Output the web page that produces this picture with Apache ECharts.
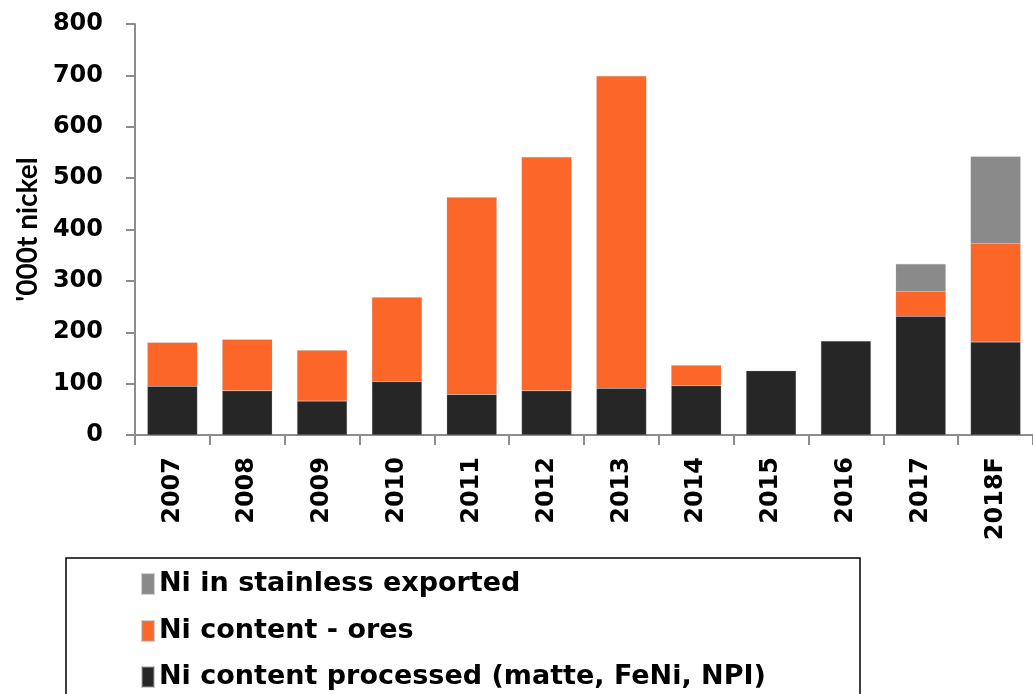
<!DOCTYPE html>
<html>
<head>
<meta charset="utf-8">
<script src="https://cdn.jsdelivr.net/npm/echarts@6/dist/echarts.min.js"></script>
<style>
html,body{margin:0;padding:0;background:#fff;}
#chart{width:1033px;height:694px;}
</style>
</head>
<body>
<div id="chart"></div>
<script>
const categories = ['2007','2008','2009','2010','2011','2012','2013','2014','2015','2016','2017','2018F'];
const processed = [95, 86, 66, 104, 79, 86, 91, 96, 125, 183, 231, 181];
const ores = [85, 100, 99, 164, 384, 455, 608, 40, 0, 0, 49, 192];
const stainless = [0, 0, 0, 0, 0, 0, 0, 0, 0, 0, 53, 169];
const yTicks = [0, 100, 200, 300, 400, 500, 600, 700, 800];
const seriesNames = ['Ni content processed (matte, FeNi, NPI)', 'Ni content - ores', 'Ni in stainless exported'];

const FONT = '"DejaVu Sans"';
const chart = echarts.init(document.getElementById('chart'));
const mk = (name, data, color) => ({
  name, type: 'bar', stack: 'total', data: data.map(v => v === 0 ? null : v),
  barWidth: 50, itemStyle: { color, borderColor: 'rgba(160,160,160,0.5)', borderWidth: 0.5 }
});
const legendTops = [569, 616, 662];
const legendOrder = [seriesNames[2], seriesNames[1], seriesNames[0]];
const legends = legendOrder.map((n, i) => ({
  orient: 'vertical', left: 141, top: legendTops[i], padding: 0,
  data: [n], icon: 'rect', itemWidth: 12, itemHeight: 20,
  textStyle: { fontFamily: FONT, fontWeight: 'bold', fontSize: 27, color: '#000', lineHeight: 30 },
  selectedMode: false
}));
chart.setOption({
  animation: false,
  grid: { left: 135, top: 24, width: 900, height: 411, containLabel: false },
  legend: legends,
  graphic: [{
    type: 'rect', shape: { x: 66, y: 558, width: 794, height: 150 },
    style: { fill: 'none', stroke: '#000', lineWidth: 1.5 }
  }],
  xAxis: {
    type: 'category', data: categories,
    axisLine: { lineStyle: { color: '#8c8c8c', width: 2 } },
    axisTick: { show: true, length: 10, lineStyle: { color: '#8c8c8c', width: 2 } },
    axisLabel: { rotate: 90, margin: 22, fontFamily: FONT, fontWeight: 'bold', fontSize: 24, color: '#000' }
  },
  yAxis: {
    type: 'value', min: 0, max: 800, interval: 100,
    name: "'000t nickel", nameLocation: 'middle', nameGap: 93, nameRotate: 90,
    nameTextStyle: { fontFamily: 'Lato', fontWeight: 'bold', fontSize: 28, color: '#000' },
    splitLine: { show: false },
    axisLine: { show: true, lineStyle: { color: '#8c8c8c', width: 2 } },
    axisTick: { show: true, length: 9, lineStyle: { color: '#8c8c8c', width: 2 } },
    axisLabel: { margin: 32, fontFamily: FONT, fontWeight: 'bold', fontSize: 24, color: '#000',
      formatter: v => yTicks.includes(v) ? String(v) : '' }
  },
  series: [
    mk(seriesNames[0], processed, '#262626'),
    mk(seriesNames[1], ores, '#fc6628'),
    mk(seriesNames[2], stainless, '#8a8a8a')
  ]
});
</script>
</body>
</html>
